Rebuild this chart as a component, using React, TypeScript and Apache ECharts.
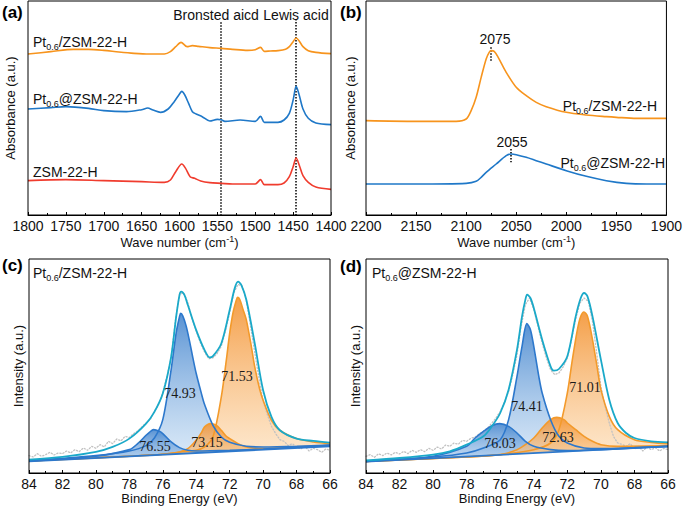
import React, { useEffect, useRef } from "react";
import * as echarts from "echarts";

// ---------------- DATA ----------------
// Panel (a): FTIR of pyridine adsorption (wave number, absorbance a.u.)
const ftirA_PtOn: [number, number][] = [[1800,483],[1770,490],[1740,497],[1720,497],[1700,494],[1680,489],[1660,485],[1640,483],[1620,483],[1612,490],[1605,505],[1598,518],[1590,505],[1583,508],[1575,506],[1560,502],[1545,500],[1530,497],[1510,494],[1500,496],[1493,503],[1488,491],[1480,492],[1470,493],[1460,497],[1455,505],[1450,520],[1446,531],[1442,522],[1437,505],[1430,493],[1420,488],[1400,484]];
const ftirA_PtIn: [number, number][] = [[1800,318],[1770,322],[1750,325],[1720,320],[1700,313],[1670,310],[1650,316],[1642,321],[1635,315],[1625,308],[1615,318],[1607,340],[1600,363],[1597,371],[1593,360],[1588,335],[1583,310],[1578,303],[1570,295],[1560,282],[1550,287],[1545,286],[1540,281],[1520,285],[1500,281],[1493,296],[1488,278],[1480,278],[1470,278],[1462,285],[1455,305],[1450,345],[1446,386],[1442,360],[1437,318],[1430,290],[1420,276],[1400,271]];
const ftirA_Zsm: [number, number][] = [[1800,103],[1750,106],[1700,103],[1650,100],[1620,98],[1612,105],[1605,130],[1597,153],[1592,140],[1586,115],[1580,110],[1572,102],[1560,97],[1545,95],[1530,93],[1510,93],[1500,93],[1493,106],[1488,91],[1470,91],[1462,96],[1455,115],[1450,145],[1446,171],[1442,150],[1437,118],[1430,98],[1420,84],[1400,77]];
const acidLines: { pos: number; top: number }[] = [{ pos: 1545, top: 578 }, { pos: 1446, top: 588 }];

// Panel (b): CO-FTIR
const ftirB_PtOn: [number, number][] = [[2200,283],[2150,281],[2110,281],[2100,288],[2095,313],[2090,353],[2085,413],[2080,468],[2077,488],[2075,493],[2072,491],[2068,473],[2060,428],[2050,383],[2040,358],[2030,338],[2020,325],[2000,308],[1980,300],[1960,295],[1950,293],[1930,290],[1900,290]];
const ftirB_PtIn: [number, number][] = [[2200,93],[2150,93],[2100,95],[2090,101],[2085,113],[2080,128],[2070,153],[2060,178],[2055,183],[2050,181],[2040,173],[2030,163],[2020,153],[2000,133],[1980,116],[1960,103],[1940,95],[1920,93],[1900,93]];
const coPeaks: { pos: number; from: number; to: number }[] = [{ pos: 2075, from: 463, to: 503 }, { pos: 2055, from: 158, to: 198 }];

// Panel (c): XPS Pt 4f, Pt0.6/ZSM-22-H
const xpsC_env: [number, number][] = [[84,40],[82,48],[80,63],[79,78],[78,103],[77,148],[76.5,183],[76,238],[75.5,348],[75.2,468],[75,533],[74.9,543],[74.7,533],[74.5,503],[74,428],[73.5,368],[73.2,346],[73,350],[72.5,388],[72,488],[71.7,553],[71.5,573],[71.3,563],[71,518],[70.5,388],[70,248],[69.5,168],[69,128],[68,103],[67,96],[66,91]];
const xpsC_p7493: [number, number][] = [[84,38],[82,44],[80,52],[78,66],[77,82],[76.5,105],[76,160],[75.5,310],[75.2,420],[75,468],[74.93,478],[74.8,470],[74.6,440],[74.4,395],[74.2,345],[74,298],[73.7,240],[73.5,205],[73,143],[72.5,108],[72,92],[71,80],[70,78],[68,80],[66,84]];
const xpsC_p7655: [number, number][] = [[84,36],[82,42],[80,50],[78,70],[77.5,88],[77,113],[76.8,122],[76.55,130],[76.2,125],[76,118],[75.5,93],[75,76],[74.5,68],[74,66],[72,68],[70,72],[68,77],[66,83]];
const xpsC_p7153: [number, number][] = [[84,36],[80,46],[78,50],[76,56],[75,63],[74,68],[73.5,78],[73,108],[72.5,228],[72.2,338],[72,418],[71.8,480],[71.6,518],[71.53,526],[71.4,520],[71.2,490],[71,458],[70.7,378],[70.5,318],[70.2,250],[70,218],[69.5,158],[69,128],[68,103],[67,93],[66,88]];
const xpsC_p7315: [number, number][] = [[84,36],[78,50],[76,56],[75,63],[74.5,73],[74,98],[73.7,120],[73.5,138],[73.15,148],[72.8,143],[72.5,128],[72.2,110],[72,103],[71.5,88],[71,78],[70,73],[68,78],[66,83]];
const xpsC_base: [number, number][] = [[84,35],[66,80]];

// Panel (d): XPS Pt 4f, Pt0.6@ZSM-22-H
const xpsD_env: [number, number][] = [[84,38],[82,45],[80,55],[79,65],[78,85],[77,110],[76.5,140],[76,180],[75.5,250],[75,370],[74.7,470],[74.5,520],[74.4,535],[74.2,525],[74,495],[73.5,400],[73,320],[72.8,307],[72.5,312],[72,350],[71.5,470],[71.2,525],[71,540],[70.8,530],[70.5,470],[70,340],[69.5,220],[69,150],[68.5,120],[68,105],[67,95],[66,92]];
const xpsD_p7441: [number, number][] = [[84,35],[80,48],[78,60],[77,75],[76,100],[75.5,160],[75,290],[74.7,380],[74.41,448],[74.2,430],[74,380],[73.7,290],[73.5,240],[73,160],[72.5,110],[72,90],[71,75],[70,73],[68,76],[66,80]];
const xpsD_p7603: [number, number][] = [[84,35],[82,42],[80,50],[78,80],[77.5,105],[77,125],[76.5,142],[76.03,148],[75.5,140],[75,120],[74.5,95],[74,80],[73,70],[72,67],[70,70],[68,75],[66,80]];
const xpsD_p7101: [number, number][] = [[84,35],[78,48],[76,55],[74,70],[73,90],[72.5,130],[72,240],[71.7,340],[71.4,430],[71.2,470],[71.01,483],[70.8,470],[70.5,400],[70.2,310],[70,250],[69.5,170],[69,130],[68,100],[67,92],[66,88]];
const xpsD_p7263: [number, number][] = [[84,35],[78,48],[76,55],[75,70],[74.5,85],[74,105],[73.5,135],[73,160],[72.63,167],[72.2,160],[72,150],[71.5,130],[71,110],[70.5,95],[70,85],[69,80],[66,82]];
const xpsD_base: [number, number][] = [[84,34],[66,80]];

// raw XPS counts (gray dots)
const rawEnergy = [84,83.75,83.5,83.25,83,82.75,82.5,82.25,82,81.75,81.5,81.25,81,80.75,80.5,80.25,80,79.75,79.5,79.25,79,78.75,78.5,78.25,78,77.75,77.5,77.25,77,76.75,76.5,76.25,76,75.75,75.5,75.25,75,74.75,74.5,74.25,74,73.75,73.5,73.25,73,72.75,72.5,72.25,72,71.75,71.5,71.25,71,70.75,70.5,70.25,70,69.75,69.5,69.25,69,68.75,68.5,68.25,68,67.75,67.5,67.25,67,66.75,66.5,66.25,66];
const rawC = [52,48,58,50,55,62,54,60,58,66,60,70,64,75,68,80,74,85,78,95,88,102,96,110,106,118,126,138,150,160,185,205,240,290,345,455,535,540,510,462,425,390,362,342,345,358,380,425,480,540,565,560,515,440,360,285,215,175,140,118,100,95,82,88,78,72,80,66,74,70,62,72,68];
const rawD = [50,55,47,58,52,60,54,62,57,65,58,68,62,70,64,74,68,78,72,84,80,90,86,98,95,104,108,118,125,135,150,165,185,212,245,295,355,440,505,525,490,440,390,345,310,295,300,318,345,400,462,510,525,515,455,360,260,200,150,110,90,86,80,88,72,80,66,78,70,76,66,74,70];

const xTickA = { min: 1400, max: 1800, interval: 50 };
const xTickB = { min: 1900, max: 2200, interval: 50 };
const xTickXps = { min: 66, max: 84, interval: 2 };

// ---------------- STYLE ----------------
const SANS = 'Arial, "Liberation Sans", Helvetica, sans-serif';
const SERIF = '"Times New Roman", "Liberation Serif", serif';
const ORANGE = "#F7941D";
const BLUE = "#1F78C8";
const RED = "#F03C2E";
const XBLUE = "#2D78CC";
const XORANGE = "#F39A2B";
const CYAN = "#1AA9C9";
const GRAY = "#c2c2c2";

function makeOption() {
  const grids = [
    { left: 28, top: 1, width: 303, height: 214 },
    { left: 366, top: 1, width: 303, height: 214 },
    { left: 29, top: 259, width: 301, height: 214 },
    { left: 366, top: 259, width: 302, height: 214 },
  ].map((g) => ({ ...g, show: true, borderColor: "#000", borderWidth: 1, backgroundColor: "transparent", z: 10 }));

  const waveName = "{t|Wave number (cm}{sup|-1}{t|)}";
  const nameRich = {
    t: { fontSize: 13, fontFamily: SANS, color: "#111", lineHeight: 16 },
    sup: { fontSize: 9, fontFamily: SANS, color: "#111", verticalAlign: "top", lineHeight: 10 },
  };
  const xAxis = (idx: number, t: { min: number; max: number; interval: number }, name: string) => ({
    type: "value",
    gridIndex: idx,
    min: t.min,
    max: t.max,
    interval: t.interval,
    inverse: true,
    z: 10,
    axisLine: { show: true, onZero: false, lineStyle: { color: "#000", width: 1 } },
    axisTick: { show: true, inside: true, length: 3, lineStyle: { color: "#000", width: 1 } },
    minorTick: { show: true, splitNumber: 2, length: 2, lineStyle: { color: "#000", width: 1 } },
    axisLabel: {
      fontSize: 14,
      color: "#111",
      margin: 4,
      fontFamily: SANS,
      showMinLabel: true,
      showMaxLabel: true,
      formatter: (v: number) => String(v),
    },
    splitLine: { show: false },
    minorSplitLine: { show: false },
    name,
    nameLocation: "middle",
    nameGap: 19,
    nameTextStyle: { fontSize: 13, color: "#111", fontFamily: SANS, rich: nameRich },
  });
  const yAxis = (idx: number, max: number, name: string, gap: number) => ({
    type: "value",
    gridIndex: idx,
    min: 0,
    max,
    axisLine: { show: false },
    axisTick: { show: false },
    axisLabel: { show: false },
    splitLine: { show: false },
    name,
    nameLocation: "middle",
    nameGap: gap,
    nameTextStyle: { fontSize: 13, color: "#111", fontFamily: SANS },
  });

  const line = (idx: number, data: any[], color: string, width: number, z: number, extra: any = {}) => ({
    type: "line",
    xAxisIndex: idx,
    yAxisIndex: idx,
    data,
    symbol: "none",
    showSymbol: false,
    smooth: 0.3,
    silent: true,
    lineStyle: { color, width },
    z,
    ...extra,
  });
  const grad = (top: string, bottom: string) =>
    new echarts.graphic.LinearGradient(0, 0, 0, 1, [
      { offset: 0, color: top },
      { offset: 1, color: bottom },
    ]);
  const blueFill = () => grad("rgba(60,128,204,0.85)", "rgba(205,226,246,0.55)");
  const orangeFill = () => grad("rgba(243,146,48,0.88)", "rgba(253,222,182,0.55)");
  const area = (idx: number, data: any[], fill: any, z: number) =>
    line(idx, data, "transparent", 0, z, { lineStyle: { width: 0, opacity: 0 }, areaStyle: { color: fill, opacity: 1 } });
  const mask = (idx: number, data: any[]) =>
    line(idx, data, "transparent", 0, 3, { smooth: false, lineStyle: { width: 0, opacity: 0 }, areaStyle: { color: "#fff", opacity: 1 } });
  const raw = (idx: number, vals: number[]) =>
    line(idx, rawEnergy.map((e, i) => [e, vals[i]]), GRAY, 1.3, 4, { smooth: false, lineStyle: { color: GRAY, width: 1.3, type: [1.2, 2], cap: "round" } });

  const dotted = { type: "dotted", color: "#000", width: 1.5 };

  const series: any[] = [
    // (a)
    line(0, ftirA_PtOn, ORANGE, 1.6, 5),
    line(0, ftirA_PtIn, BLUE, 1.6, 5),
    line(0, ftirA_Zsm, RED, 1.6, 5, {
      markLine: {
        silent: true,
        symbol: ["none", "none"],
        label: { show: false },
        lineStyle: dotted,
        data: acidLines.map((l) => [{ coord: [l.pos, l.top] }, { coord: [l.pos, 0] }]),
      },
    }),
    // (b)
    line(1, ftirB_PtOn, ORANGE, 1.6, 5),
    line(1, ftirB_PtIn, BLUE, 1.6, 5, {
      markLine: {
        silent: true,
        symbol: ["none", "none"],
        label: { show: false },
        lineStyle: dotted,
        data: coPeaks.map((p) => [{ coord: [p.pos, p.to] }, { coord: [p.pos, p.from] }]),
      },
    }),
  ];

  const xps = (idx: number, env: any[], bBig: any[], bSmall: any[], oBig: any[], oSmall: any[], base: any[], rawVals: number[]) => [
    area(idx, bBig, blueFill(), 2),
    area(idx, bSmall, blueFill(), 2),
    area(idx, oBig, orangeFill(), 2),
    area(idx, oSmall, orangeFill(), 2),
    mask(idx, base),
    raw(idx, rawVals),
    line(idx, oBig, XORANGE, 1.6, 5),
    line(idx, oSmall, XORANGE, 1.6, 5),
    line(idx, bBig, XBLUE, 1.6, 6),
    line(idx, bSmall, XBLUE, 1.6, 6),
    line(idx, base, XBLUE, 1.8, 6, { smooth: false }),
    line(idx, env, CYAN, 1.8, 7),
  ];
  series.push(...xps(2, xpsC_env, xpsC_p7493, xpsC_p7655, xpsC_p7153, xpsC_p7315, xpsC_base, rawC));
  series.push(...xps(3, xpsD_env, xpsD_p7441, xpsD_p7603, xpsD_p7101, xpsD_p7263, xpsD_base, rawD));

  const ptRich = {
    m: { fontSize: 14, fontFamily: SANS, fill: "#111", lineHeight: 18 },
    s: { fontSize: 9, fontFamily: SANS, fill: "#111", verticalAlign: "bottom", lineHeight: 10 },
  };
  const txt = (x: number, y: number, text: string, opts: any = {}) => ({
    type: "text",
    x,
    y,
    silent: true,
    z: 20,
    style: { text, fontSize: 14, fontFamily: SANS, fill: "#111", align: "left", verticalAlign: "middle", ...opts },
  });
  const pt = (x: number, y: number, sep: string, align = "left") =>
    txt(x, y, `{m|Pt}{s|0.6}{m|${sep}ZSM-22-H}`, { rich: ptRich, align });
  const panel = (x: number, y: number, t: string) => txt(x, y, t, { fontSize: 17, fontWeight: "bold", fill: "#000" });
  const peak = (x: number, y: number, t: string) => txt(x, y, t, { fontFamily: SERIF, fontSize: 14, align: "center", fill: "#1a1a1a" });

  const graphic = [
    panel(2, 12, "(a)"),
    panel(340, 12, "(b)"),
    panel(2, 265, "(c)"),
    panel(340, 266, "(d)"),
    pt(33, 42, "/"),
    pt(33, 99, "@"),
    txt(33, 172, "ZSM-22-H"),
    txt(216, 15, "Bronsted aicd", { align: "center" }),
    txt(296, 15, "Lewis acid", { align: "center" }),
    txt(495, 39, "2075", { align: "center" }),
    txt(512, 142, "2055", { align: "center" }),
    pt(657, 106, "/", "right"),
    pt(665, 163, "@", "right"),
    pt(33, 273, "/"),
    pt(372, 273, "@"),
    peak(180, 393, "74.93"),
    peak(237, 376, "71.53"),
    peak(155, 446, "76.55"),
    peak(207, 442, "73.15"),
    peak(527, 406, "74.41"),
    peak(585, 387, "71.01"),
    peak(500, 443, "76.03"),
    peak(558, 437, "72.63"),
  ];

  return {
    animation: false,
    backgroundColor: "#fff",
    grid: grids,
    xAxis: [
      xAxis(0, xTickA, waveName),
      xAxis(1, xTickB, waveName),
      xAxis(2, xTickXps, "Binding Energy (eV)"),
      xAxis(3, xTickXps, "Binding Energy (eV)"),
    ],
    yAxis: [
      yAxis(0, 642, "Absorbance (a.u.)", 11),
      yAxis(1, 642, "Absorbance (a.u.)", 9),
      yAxis(2, 641, "Intensity (a.u.)", 4),
      yAxis(3, 642, "Intensity (a.u.)", 4),
    ],
    series,
    graphic,
  };
}

export default function App() {
  const ref = useRef<HTMLDivElement>(null);
  useEffect(() => {
    if (!ref.current) return;
    const chart = echarts.init(ref.current, undefined, { renderer: "svg" });
    chart.setOption(makeOption() as any);
    return () => chart.dispose();
  }, []);
  return <div ref={ref} style={{ position: "fixed", left: 0, top: 0, width: 685, height: 510, background: "#fff" }} />;
}
